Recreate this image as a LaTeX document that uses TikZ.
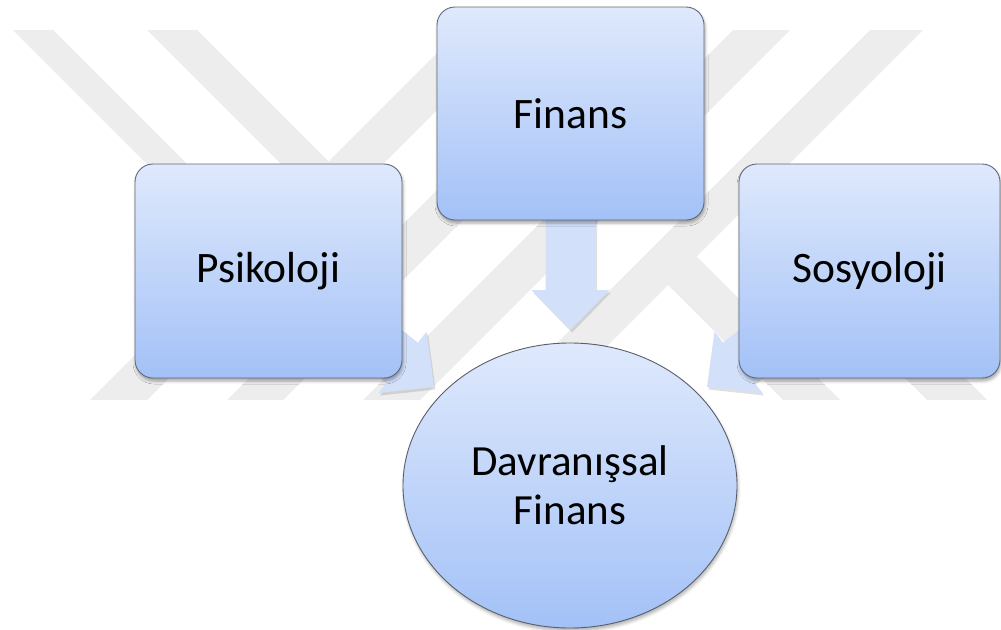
\documentclass[tikz,border=0pt]{standalone}
\usepackage{fontspec}
\setmainfont{Carlito}
\usetikzlibrary{shapes.geometric,calc,shadows.blur}
\definecolor{wmgray}{RGB}{237,237,237}
\definecolor{boxtop}{RGB}{223,233,252}
\definecolor{boxbot}{RGB}{163,193,247}
\definecolor{boxline}{RGB}{95,105,125}
\definecolor{ellline}{RGB}{90,95,105}
\definecolor{arrowcol}{RGB}{210,224,250}
\pgfdeclarelayer{wmlayer}
\pgfdeclarelayer{arrlayer}
\pgfsetlayers{wmlayer,arrlayer,main}
\newcommand\BlkArrow[4]{%
  \coordinate (#2-hb) at ($(#2)!40pt!(#1)$);
  \fill[#3] ($(#1)!25pt!90:(#2)+(#4)$) -- ($(#2-hb)!25pt!90:(#2)+(#4)$) -- ($(#2-hb)!39pt!90:(#2)+(#4)$) -- ($(#2)+(#4)$) -- ($(#2-hb)!39pt!-90:(#2)+(#4)$) -- ($(#2-hb)!25pt!-90:(#2)+(#4)$) -- ($(#1)!25pt!-90:(#2)+(#4)$) -- cycle;}
\begin{document}
\begin{tikzpicture}[x=1pt,y=-1pt,
  box/.style={rectangle, draw=boxline, line width=0.9pt, rounded corners=18pt,
    top color=boxtop, bottom color=boxbot, inner sep=0pt, minimum height=214pt,
    font=\fontsize{43.5}{48}\selectfont,
    blur shadow={shadow xshift=1pt, shadow yshift=-3pt, shadow opacity=35, shadow blur radius=3pt}},
  oval/.style={ellipse, draw=ellline, line width=0.9pt,
    top color=boxtop, bottom color=boxbot, inner sep=0pt,
    blur shadow={shadow xshift=1pt, shadow yshift=-3pt, shadow opacity=30, shadow blur radius=3pt}},
  lbl/.style={align=center, inner sep=0pt, font=\fontsize{43}{49}\selectfont},
  arrowbody/.style={fill=arrowcol},
  arrowshade/.style={fill=black, fill opacity=0.12},
  wmband/.style={fill=wmgray}]
\useasboundingbox (0,0) rectangle (1001,629);

\node[box, minimum width=267pt, minimum height=213pt] (fin) at (570.5,113.5) {Finans};
\node[box, minimum width=267pt] (psi) at (268.5,271) {Psikoloji};
\node[box, minimum width=261pt] (sos) at (869.5,271) {Sosyoloji};
\node[oval, minimum width=334pt, minimum height=285pt] (df) at (570,485.5) {};
\node[lbl] (dftext) at (570,485) {Davranışsal\\Finans};

\coordinate (fintip) at (570.5,330);
\coordinate (psitail) at (300,282);
\coordinate (psitip) at (434,387);
\coordinate (sostail) at (841,282);
\coordinate (sostip) at (707,387);

\begin{pgfonlayer}{wmlayer}
\fill[wmband] (13,30) -- (53,30) -- (283,260) -- (243,260) -- cycle;
\fill[wmband] (147,30) -- (197,30) -- (340,173) -- (315,198) -- cycle;
\fill[wmband] (90,400) -- (147,400) -- (517,30) -- (460,30) -- cycle;
\fill[wmband] (227,400) -- (283,400) -- (653,30) -- (597,30) -- cycle;
\fill[wmband] (363,400) -- (420,400) -- (790,30) -- (733,30) -- cycle;
\fill[wmband] (500,400) -- (553,400) -- (923,30) -- (870,30) -- cycle;
\fill[wmband] (783,400) -- (840,400) -- (683,243) -- (654.5,271.5) -- cycle;
\fill[wmband] (927,400) -- (987,400) -- (756.5,169.5) -- (726.5,199.5) -- cycle;
\end{pgfonlayer}

\begin{pgfonlayer}{arrlayer}
\BlkArrow{fin.center}{fintip}{arrowshade}{1.5,2.5}
\BlkArrow{fin.center}{fintip}{arrowbody}{0,0}
\BlkArrow{psitail}{psitip}{arrowshade}{1.5,2.5}
\BlkArrow{psitail}{psitip}{arrowbody}{0,0}
\BlkArrow{sostail}{sostip}{arrowshade}{1.5,2.5}
\BlkArrow{sostail}{sostip}{arrowbody}{0,0}
\end{pgfonlayer}
\end{tikzpicture}
\end{document}
